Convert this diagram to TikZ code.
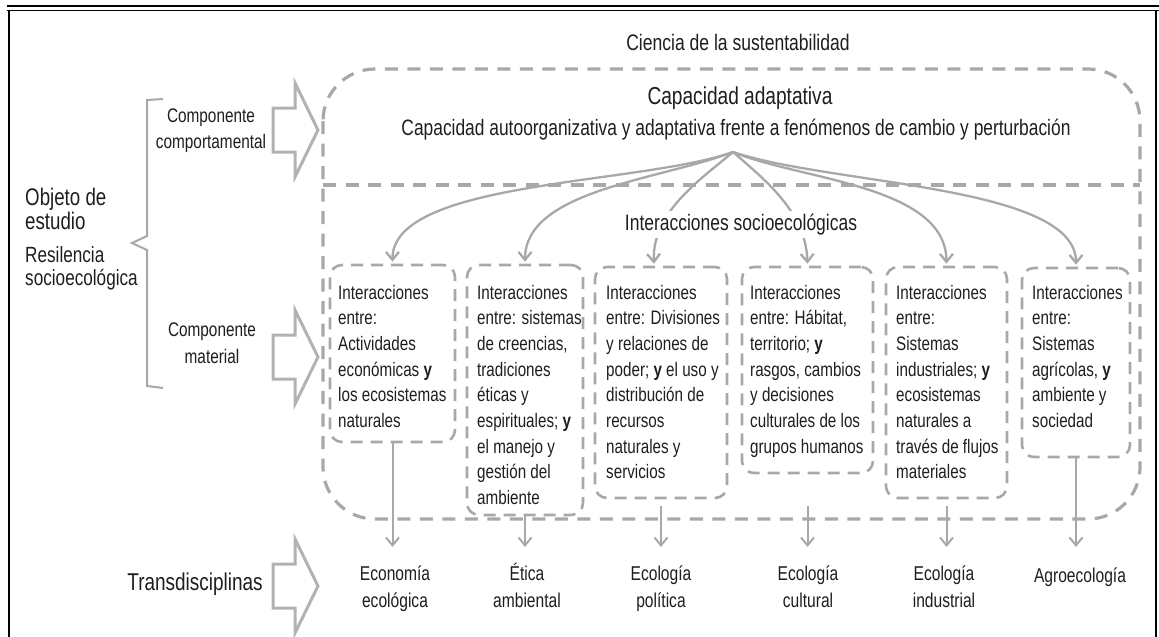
\documentclass[tikz,border=0pt]{standalone}
\usepackage{fontspec}
\setmainfont{Liberation Sans}[FakeStretch=0.78]
\usetikzlibrary{arrows.meta,calc}
\definecolor{lg}{RGB}{168,168,168}
\definecolor{ag}{RGB}{178,178,178}
\definecolor{tx}{RGB}{30,30,30}
\tikzset{
 bigdash/.style={draw=lg, line width=3.2pt, dash pattern=on 13pt off 9.5pt},
 sbox/.style={rectangle, draw=lg, line width=2.6pt, dash pattern=on 12pt off 8pt, rounded corners=12pt, inner sep=0pt},
 btxt/.style={font=\fontsize{19.5}{25.7}\selectfont, align=left, anchor=base west},
 lab/.style={font=\fontsize{20}{27}\selectfont, align=center, anchor=base},
 fanarrow/.style={draw=lg, line width=2.3pt, -{Straight Barb[length=8pt,width=13pt]}, shorten >=2pt},
 downarrow/.style={draw=lg, line width=2pt, -{Straight Barb[length=8pt,width=13pt]}},
 blockarr/.style={draw=ag, line width=3pt, line join=miter},
}
\begin{document}
\begin{tikzpicture}[x=1pt, y=-1pt, every node/.style={text=tx, inner sep=0pt}]
\useasboundingbox (0,0) rectangle (1159,637);
% frame
\draw[line width=2.8pt] (7,6) -- (1159,6);
\draw[line width=1pt] (7,10.5) -- (1159,10.5);
\draw[line width=2pt] (9,10) -- (9,637);
\draw[line width=1.6pt] (1156,10) -- (1156,637);

% big dashed container
\draw[bigdash, rounded corners=52pt] (323,69) rectangle (1140,519);
\draw[bigdash] (323,185) -- (1140,185);

% left texts (base = last line's baseline)
\node[font=\fontsize{24}{21}\selectfont, align=left, anchor=base west] (obj) at (25,229) {Objeto de\\estudio};
\node[font=\fontsize{22}{23}\selectfont, align=left, anchor=base west] (res) at (25,285) {Resilencia\\socioecológica};
\draw[draw=lg, line width=2pt] (163,99) -- (147,100) -- (147,236) -- (132,243) -- (147,250) -- (147,386) -- (163,388);
\node[font=\fontsize{19.7}{26}\selectfont, align=center, anchor=base] (cc) at (211,148) {Componente\\comportamental};
\node[font=\fontsize{19.7}{27}\selectfont, align=center, anchor=base] (cm) at (212,363) {Componente\\material};
\node[font=\fontsize{24.3}{28}\selectfont, anchor=base] (tr) at (195,590) {Transdisciplinas};
\foreach \c in {130,357,586}
  \draw[blockarr] (273,\c-22) -- (295,\c-22) -- (295,\c-47) -- (318,\c) -- (295,\c+47) -- (295,\c+22) -- (273,\c+22) -- cycle;

% top texts
\node[font=\fontsize{22.5}{27}\selectfont, anchor=base] (cs) at (738,50) {Ciencia de la sustentabilidad};
\node[font=\fontsize{24.5}{29}\selectfont, anchor=base] (ca) at (740,104) {Capacidad adaptativa};
\node[font=\fontsize{22.3}{27}\selectfont, anchor=base] (cl) at (736,135) {Capacidad autoorganizativa y adaptativa frente a fenómenos de cambio y perturbación};

% boxes
\node[sbox, minimum width=125pt, minimum height=177pt] (b1) at (392.5,353.5) {};
\node[sbox, minimum width=116pt, minimum height=250pt] (b2) at (525,390) {};
\node[sbox, minimum width=132pt, minimum height=231pt] (b3) at (661,382.5) {};
\node[sbox, minimum width=131pt, minimum height=206pt] (b4) at (807.5,370) {};
\node[sbox, minimum width=121pt, minimum height=231pt] (b5) at (946.5,382.5) {};
\node[sbox, minimum width=108pt, minimum height=189pt] (b6) at (1076,362.5) {};

\node[btxt] (t1) at (338,427.5) {Interacciones\\entre:\\Actividades\\económicas {\bfseries y}\\los ecosistemas\\naturales};
\node[btxt] (t2) at (477,504.6) {Interacciones\\entre: sistemas\\de creencias,\\tradiciones\\éticas y\\espirituales; {\bfseries y}\\el manejo y\\gestión del\\ambiente};
\node[btxt] (t3) at (606,478.9) {Interacciones\\entre: Divisiones\\y relaciones de\\poder; {\bfseries y} el uso y\\distribución de\\recursos\\naturales y\\servicios};
\node[btxt] (t4) at (750,453.2) {Interacciones\\entre: Hábitat,\\territorio; {\bfseries y}\\rasgos, cambios\\y decisiones\\culturales de los\\grupos humanos};
\node[btxt] (t5) at (896,478.9) {Interacciones\\entre:\\Sistemas\\industriales; {\bfseries y}\\ecosistemas\\naturales a\\través de flujos\\materiales};
\node[btxt] (t6) at (1032,427.5) {Interacciones\\entre:\\Sistemas\\agrícolas, {\bfseries y}\\ambiente y\\sociedad};

% fan of arrows
\coordinate (fan) at (733,152);
\draw[fanarrow] (fan) .. controls (640,185) and (392,180) .. (b1.north);
\draw[fanarrow] (fan) .. controls (660,180) and (525,190) .. (b2.north);
\draw[fanarrow] (fan) .. controls (700,180) and (652,212) .. ([xshift=-7pt]b3.north);
\draw[fanarrow] (fan) .. controls (765,180) and (806,212) .. (b4.north);
\draw[fanarrow] (fan) .. controls (800,180) and (946,185) .. (b5.north);
\draw[fanarrow] (fan) .. controls (830,185) and (1076,185) .. (b6.north);
\node[font=\fontsize{22.4}{27}\selectfont, anchor=base, fill=white, inner sep=3pt] (is) at (741,230) {Interacciones socioecológicas};

% bottom arrows
\coordinate (s3) at (661,506);
\coordinate (s4) at (807.5,506);
\coordinate (s5) at (946.5,506);
\coordinate (e1) at (392.5,547);
\coordinate (e2) at (525,547);
\coordinate (e3) at (661,547);
\coordinate (e4) at (807.5,547);
\coordinate (e5) at (946.5,547);
\coordinate (e6) at (1076,547);
\draw[downarrow] (b1.south) -- (e1);
\draw[downarrow] (b2.south) -- (e2);
\draw[downarrow] (s3) -- (e3);
\draw[downarrow] (s4) -- (e4);
\draw[downarrow] (s5) -- (e5);
\draw[downarrow] (b6.south) -- (e6);

% discipline labels
\node[lab] (l1) at (395,607) {Economía\\ecológica};
\node[lab] (l2) at (527,607) {Ética\\ambiental};
\node[lab] (l3) at (661,607) {Ecología\\política};
\node[lab] (l4) at (808,607) {Ecología\\cultural};
\node[lab] (l5) at (944,607) {Ecología\\industrial};
\node[lab] (l6) at (1080,582) {Agroecología};
\end{tikzpicture}
\end{document}
